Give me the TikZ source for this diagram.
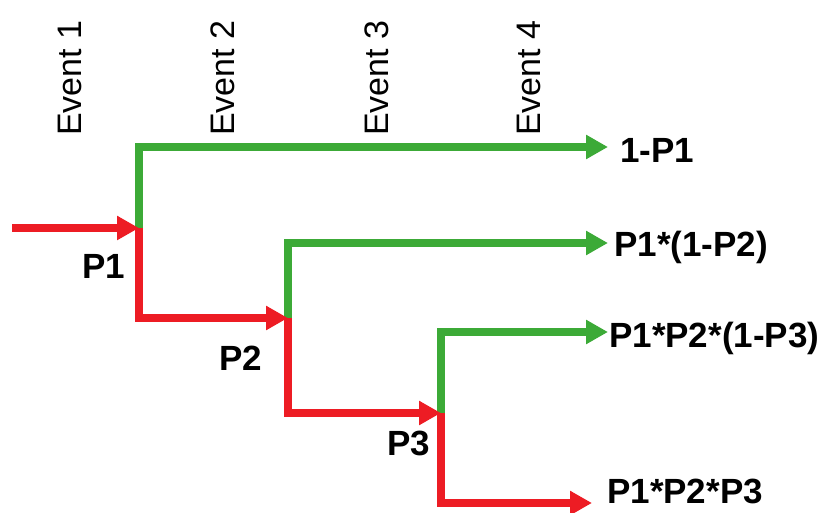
\documentclass[tikz,border=0pt]{standalone}
\usepackage{fontspec}
\setmainfont{Liberation Sans}
\usetikzlibrary{arrows.meta}
\definecolor{tred}{RGB}{237,28,36}
\definecolor{tgreen}{RGB}{60,170,55}
\begin{document}
\begin{tikzpicture}[x=1pt,y=-1pt,
  redarrow/.style={draw=tred,line width=7.5pt,-{Triangle[length=22pt,width=23pt]}},
  greenarrow/.style={draw=tgreen,line width=7.5pt,-{Triangle[length=22pt,width=23pt]}},
  eventlabel/.style={rotate=90,anchor=base west,inner sep=0pt,font=\fontsize{34}{40}\selectfont},
  problabel/.style={anchor=base west,inner sep=0pt,font=\fontsize{35}{40}\selectfont\bfseries}]
\useasboundingbox (0,0) rectangle (838,513);
% event headings
\node[eventlabel] (e1) at (81,136) {Event 1};
\node[eventlabel] (e2) at (234,136) {Event 2};
\node[eventlabel] (e3) at (388,136) {Event 3};
\node[eventlabel] (e4) at (540,136) {Event 4};
% junctions and ends
\coordinate (s) at (12,228);
\coordinate (j1) at (139,228);
\coordinate (j2) at (288,318);
\coordinate (j3) at (441,413);
\coordinate (t1) at (608,147);
\coordinate (t2) at (608,243);
\coordinate (t3) at (608,332);
\coordinate (t4) at (592,503);
% green branches
\draw[greenarrow] (j1) |- (t1);
\draw[greenarrow] (j2) |- (t2);
\draw[greenarrow] (j3) |- (t3);
% red path
\draw[redarrow] (s) -- (j1);
\draw[redarrow] (j1) |- (j2);
\draw[redarrow] (j2) |- (j3);
\draw[redarrow] (j3) |- (t4);
% probability labels
\node[problabel] (p1) at (82,278) {P1};
\node[problabel] (p2) at (219,370) {P2};
\node[problabel] (p3) at (387,455) {P3};
% outcomes
\node[problabel] (o1) at (620,163) {1-P1};
\node[problabel] (o2) at (614,257) {P1*(1-P2)};
\node[problabel] (o3) at (609,347) {P1*P2*(1-P3)};
\node[problabel] (o4) at (607,503) {P1*P2*P3};
\end{tikzpicture}
\end{document}
